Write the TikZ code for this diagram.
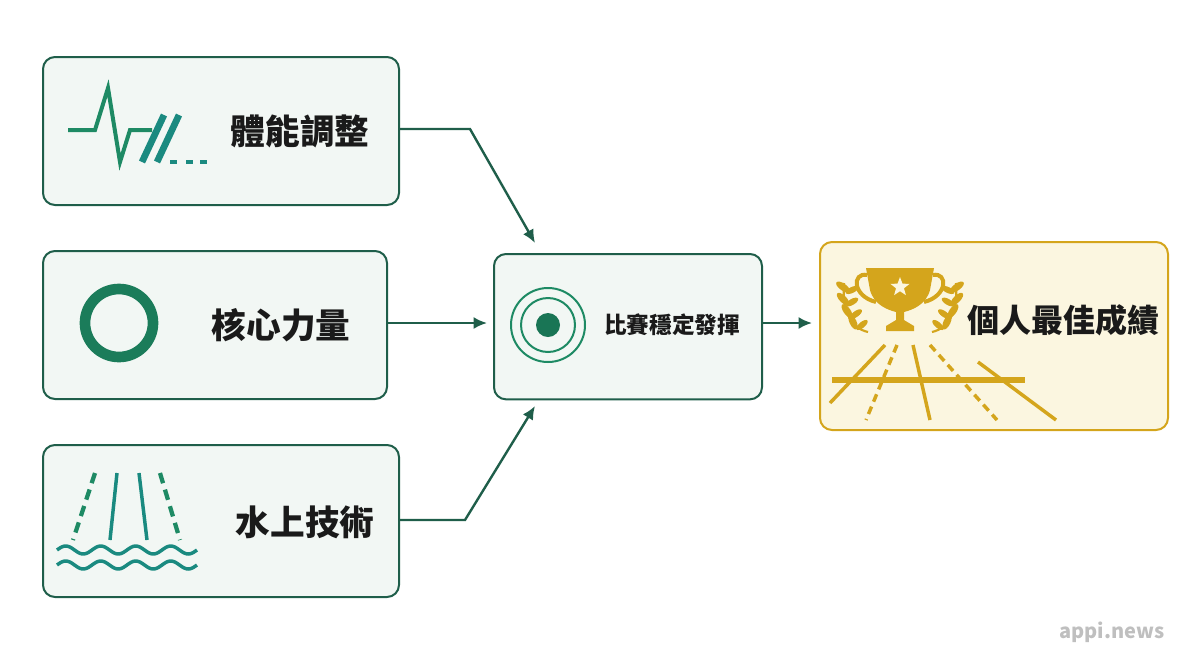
\documentclass[tikz,border=0pt]{standalone}
\usepackage{fontspec}
\setmainfont{Noto Sans CJK TC}
\usetikzlibrary{positioning, shapes.geometric, arrows.meta}
\definecolor{boxline}{HTML}{1F5E4A}
\definecolor{boxfill}{HTML}{F2F7F4}
\definecolor{icongreen}{HTML}{1E8A64}
\definecolor{iconteal}{HTML}{1A8A80}
\definecolor{goldline}{HTML}{D4A51C}
\definecolor{goldfill}{HTML}{FBF6E0}
\definecolor{inkdark}{HTML}{1A1A1A}

\begin{document}
\begin{tikzpicture}[x=0.75pt, y=-0.75pt,
  box/.style={draw=boxline, fill=boxfill, line width=1.5pt, rounded corners=9pt, anchor=north west, inner sep=0pt},
  goldbox/.style={draw=goldline, fill=goldfill, line width=1.5pt, rounded corners=9pt, anchor=north west, inner sep=0pt},
  title/.style={text=inkdark, font=\bfseries\fontsize{26}{29}\selectfont},
  flow/.style={draw=boxline, line width=1.8pt, -{Latex[length=10pt, width=9pt]}}]
  \useasboundingbox (0,0) rectangle (1200,658);

  % boxes
  \node[box, minimum width=267pt, minimum height=111pt] (body) at (42,56) {};
  \node[box, minimum width=258pt, minimum height=111pt] (core) at (42,250) {};
  \node[box, minimum width=267pt, minimum height=114pt] (water) at (42,444) {};
  \node[box, minimum width=201pt, minimum height=109pt] (race) at (493,253) {};
  \node[goldbox, minimum width=261pt, minimum height=141pt] (best) at (819,241) {};

  % titles
  \node[title] (bodyt) at (300,131) {體能調整};
  \node[title] (coret) at (281,325) {核心力量};
  \node[title] (watert) at (305,522) {水上技術};
  \node[text=inkdark, font=\bfseries\fontsize{17}{20}\selectfont] (racet) at (672,325) {比賽穩定發揮};
  \node[title, font=\bfseries\fontsize{24}{27}\selectfont] (bestt) at (1063,320) {個人最佳成績};
  \node[text=black!25, font=\bfseries\fontsize{15}{18}\selectfont] (mark) at (1112,632) {appi.news};

  % connectors
  \coordinate (bodyk) at (470,129);
  \coordinate (corek) at (487,323);
  \coordinate (waterk) at (465,520);
  \coordinate (bestk) at (812,323);
  \draw[flow] (body.east |- bodyk) -- (bodyk) -- (535,243);
  \draw[flow] (core.east |- corek) -- (corek);
  \draw[flow] (water.east |- waterk) -- (waterk) -- (535,406);
  \draw[flow] (race.east |- bestk) -- (bestk);

  % pulse icon
  \draw[icongreen, line width=3pt, line join=miter]
    (68,130) -- (95,130) -- (108,88) -- (120,162) -- (130,130) -- (152,130);
  \draw[iconteal, line width=5pt] (142,162) -- (164,115) (157,162) -- (179,115);
  \foreach \x in {170,186,200}
    \draw[iconteal, line width=2.4pt] (\x,162) -- (\x+7,162);

  % ring icon
  \draw[icongreen!90!black, line width=8pt] (119,323) circle (34);

  % lane icon
  \draw[icongreen, line width=3.2pt, dash pattern=on 8pt off 5pt] (95,473) -- (73,540) (160,473) -- (180,540);
  \draw[iconteal, line width=2.6pt] (110,540) -- (117,473) (147,540) -- (139,473);
  \foreach \y in {550,565}
    \draw[iconteal, line width=2.6pt] plot[domain=0:140, samples=80, smooth] ({57+\x}, {\y-4*sin(\x*10.2857)});

  % target icon
  \draw[icongreen, line width=1.5pt] (548,325) circle (37) (548,325) circle (27);
  \fill[icongreen!85!black] (548,325) circle (12);

  % trophy
  \begin{scope}[goldline]
    \fill (866,268) -- (934,268) -- (930,290) .. controls (926,305) and (912,310) .. (904,312)
      -- (904,320) -- (914,326) -- (914,331) -- (886,331) -- (886,326) -- (896,320) -- (896,312)
      .. controls (888,310) and (874,305) .. (870,290) -- cycle;
    \draw[line width=3pt] (867,275) .. controls (852,272) and (852,296) .. (876,302)
      (933,275) .. controls (948,272) and (948,296) .. (924,302);
    \node[star, star points=5, star point ratio=2.4, fill=goldfill, inner sep=0pt, minimum size=15pt] (cupstar) at (900,287) {};
    \foreach \s in {1,-1} {
      \draw[line width=1.6pt] (900+\s*32,332) .. controls (900+\s*50,328) and (900+\s*58,310) .. (900+\s*56,283);
      \foreach \t/\px/\py in {0/47/322,1/53/311,2/57/299,3/57/287} {
        \fill[rotate around={\s*(-25-\t*10):(900+\s*\px,\py)}] (900+\s*\px,\py) ellipse (3.5 and 8);
        \fill[rotate around={\s*(50+\t*5):(900+\s*\px+\s*-9,\py+3)}] (900+\s*\px+\s*-9,\py+3) ellipse (3 and 7);
      }
    }
    % track
    \draw[line width=4.5pt] (832,380) -- (1025,380);
    \draw[line width=2.6pt] (885,345) -- (830,403) (913,345) -- (930,420) (978,362) -- (1056,420);
    \draw[line width=2.6pt, dash pattern=on 6pt off 4pt] (897,345) -- (866,420) (930,345) -- (997,420);
  \end{scope}
\end{tikzpicture}
\end{document}
